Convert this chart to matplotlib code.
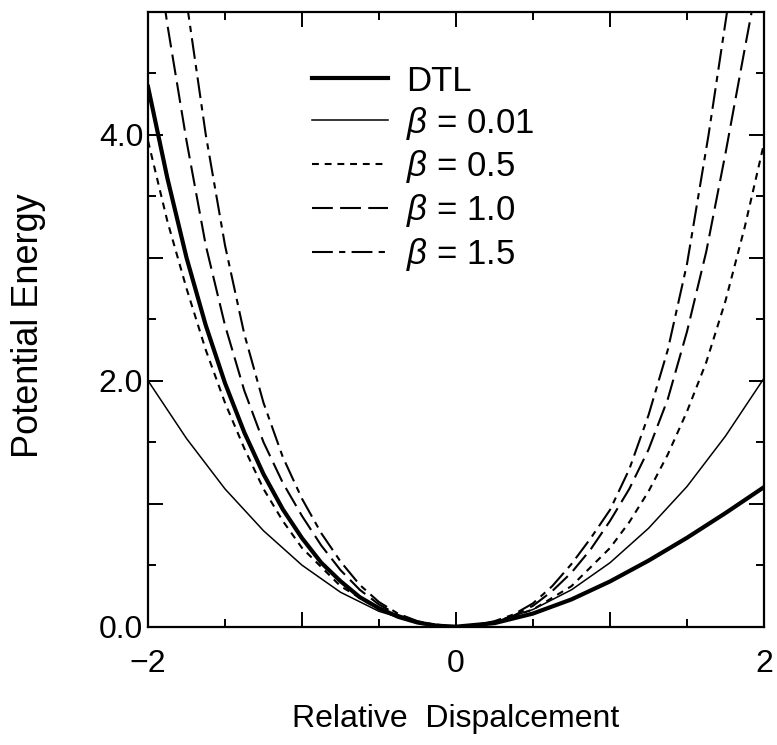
import matplotlib
matplotlib.use('Agg')
import matplotlib.pyplot as plt

plt.rcParams['font.family'] = ['Liberation Sans', 'DejaVu Sans']
plt.rcParams['mathtext.fontset'] = 'custom'
plt.rcParams['mathtext.it'] = 'Liberation Sans:italic'
plt.rcParams['mathtext.rm'] = 'Liberation Sans'

# values
x_dtl = [-2.0, -1.875, -1.75, -1.625, -1.5, -1.375, -1.25, -1.125, -1.0,
         -0.875, -0.75, -0.625, -0.5, -0.375, -0.25, -0.125, 0.0,
         0.25, 0.5, 0.75, 1.0, 1.25, 1.5, 1.75, 2.0]
y_dtl = [4.39, 3.65, 3.00, 2.45, 1.98, 1.58, 1.24, 0.955, 0.72,
         0.52, 0.37, 0.24, 0.15, 0.08, 0.034, 0.008, 0.0,
         0.029, 0.107, 0.222, 0.368, 0.537, 0.723, 0.924, 1.135]

x_b001 = [-2.0, -1.75, -1.5, -1.25, -1.0, -0.75, -0.5, -0.25, 0.0,
          0.25, 0.5, 0.75, 1.0, 1.25, 1.5, 1.75, 2.0]
y_b001 = [2.0, 1.53, 1.12, 0.78, 0.50, 0.28, 0.125, 0.03, 0.0,
          0.035, 0.14, 0.30, 0.52, 0.80, 1.14, 1.55, 2.02]

x_b05 = [-2.0, -1.875, -1.75, -1.625, -1.5, -1.375, -1.25, -1.125, -1.0,
         -0.75, -0.5, -0.25, 0.0, 0.25, 0.5, 0.75,
         1.0, 1.125, 1.25, 1.375, 1.5, 1.625, 1.75, 1.875, 2.0]
y_b05 = [3.95, 3.30, 2.75, 2.25, 1.82, 1.45, 1.12, 0.86, 0.64,
         0.33, 0.14, 0.035, 0.0, 0.035, 0.14, 0.33,
         0.64, 0.85, 1.10, 1.40, 1.75, 2.15, 2.65, 3.25, 3.93]

x_b10 = [-1.95, -1.875, -1.75, -1.625, -1.5, -1.375, -1.25, -1.125, -1.0,
         -0.875, -0.75, -0.625, -0.5, -0.375, -0.25, -0.125, 0.0,
         0.125, 0.25, 0.375, 0.5, 0.625, 0.75, 0.875, 1.0,
         1.125, 1.25, 1.375, 1.5, 1.625, 1.75, 1.875, 1.92, 2.0]
y_b10 = [5.55, 4.90, 3.95, 3.10, 2.45, 1.92, 1.50, 1.17, 0.90,
         0.66, 0.46, 0.30, 0.18, 0.095, 0.04, 0.01, 0.0,
         0.01, 0.04, 0.09, 0.17, 0.29, 0.44, 0.63, 0.86,
         1.12, 1.44, 1.85, 2.40, 3.05, 3.85, 4.70, 5.0, 5.7]

x_b15 = [-1.8, -1.74, -1.625, -1.5, -1.375, -1.25, -1.125, -1.0,
         -0.875, -0.75, -0.625, -0.5, -0.375, -0.25, -0.125, 0.0,
         0.125, 0.25, 0.375, 0.5, 0.625, 0.75, 0.875, 1.0,
         1.125, 1.25, 1.375, 1.5, 1.64, 1.76, 1.85]
y_b15 = [5.6, 5.0, 4.0, 3.1, 2.38, 1.82, 1.38, 1.04,
         0.76, 0.53, 0.34, 0.20, 0.105, 0.045, 0.011, 0.0,
         0.011, 0.045, 0.10, 0.19, 0.33, 0.51, 0.72, 0.95,
         1.28, 1.72, 2.25, 2.95, 4.0, 5.0, 5.8]

fig = plt.figure(figsize=(7.77, 7.45), dpi=100)
ax = fig.add_axes([0.1905, 0.1588, 0.7928, 0.8255])

ax.plot(x_dtl, y_dtl, color='black', lw=3.0, label='DTL')
ax.plot(x_b001, y_b001, color='black', lw=1.1, label=r'$\beta$ = 0.01')
ax.plot(x_b05, y_b05, color='black', lw=1.5, linestyle=(0, (3.3, 2.8)),
        label=r'$\beta$ = 0.5')
ax.plot(x_b10, y_b10, color='black', lw=1.5, linestyle=(0, (10, 3.5)),
        label=r'$\beta$ = 1.0')
ax.plot(x_b15, y_b15, color='black', lw=1.5, linestyle=(0, (10, 3, 3, 3)),
        label=r'$\beta$ = 1.5')

ax.set_xlim(-2, 2)
ax.set_ylim(0, 5)
ax.set_xticks([-2, -1, 0, 1, 2])
ax.set_xticklabels(['\u22122', '', '0', '', '2'])
ax.set_xticks([-1.5, -0.5, 0.5, 1.5], minor=True)
ax.set_yticks([0, 1, 2, 3, 4, 5])
ax.set_yticklabels(['0.0', '', '2.0', '', '4.0', ''])
ax.set_yticks([0.5, 1.5, 2.5, 3.5, 4.5], minor=True)
ax.tick_params(which='both', direction='in', top=True, right=True, width=1.4)
ax.tick_params(which='major', length=11, labelsize=23)
ax.tick_params(which='minor', length=6)
ax.tick_params(axis='x', which='major', pad=16)
for s in ax.spines.values():
    s.set_linewidth(1.6)

ax.set_xlabel('Relative  Dispalcement', fontsize=23)
ax.xaxis.set_label_coords(0.5, -0.126)
ax.set_ylabel('Potential Energy', fontsize=26)
ax.yaxis.set_label_coords(-0.165, 0.49)

leg = ax.legend(loc='upper left', bbox_to_anchor=(0.266, 0.914), frameon=False,
                fontsize=25, handlelength=2.2, labelspacing=0.2,
                handletextpad=0.5, borderpad=0, borderaxespad=0)

fig.savefig('out.png', dpi=100)
